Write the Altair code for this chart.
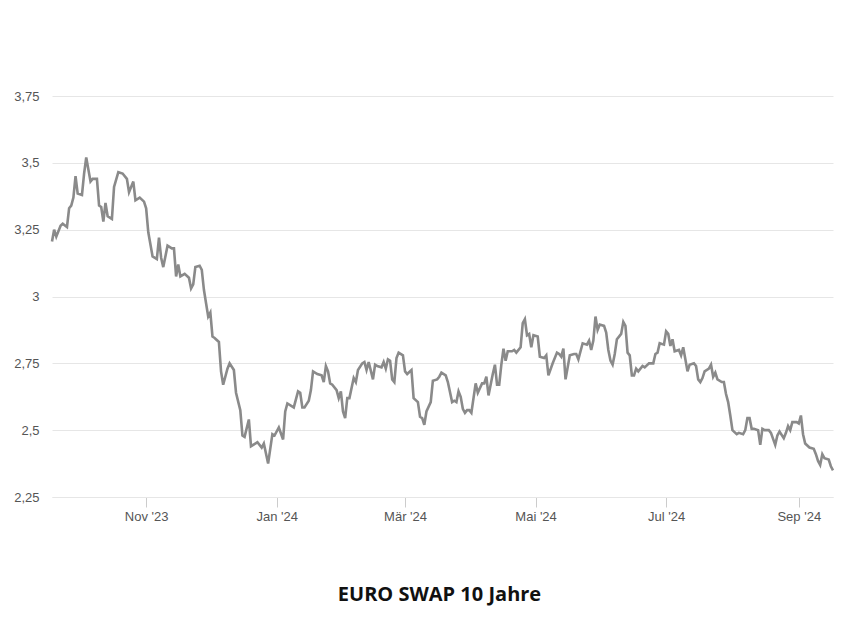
import altair as alt
import pandas as pd

start_date = "2023-09-18"

# day offsets from start_date (chunked by region)
days = (
    [0, 1, 2, 4, 5, 7, 8, 9, 10, 11, 12, 14, 15, 16, 18, 19, 21, 22, 23, 24, 25, 26, 28, 29,
     31, 33, 35, 36, 38, 39, 41, 43, 44, 45, 47, 49, 50, 51, 52, 54, 56, 57, 58, 59]
    + [60, 62, 64, 65, 66, 67, 69, 70, 71, 72, 73, 74, 75, 76, 78, 79, 80, 82, 83, 85,
       86, 88, 89, 90, 92, 93, 95, 96, 98, 99, 101, 103, 104, 106, 108, 109, 110, 112, 113, 115, 116]
    + [117, 118, 120, 121, 122, 124, 126, 127, 128, 129, 130, 131, 133, 134, 135, 136, 137, 138, 139, 141,
       142, 143, 145, 146, 147, 148, 150, 151, 152, 154, 155, 156, 157, 158, 159, 160, 161, 162, 164, 165,
       166, 168, 169, 171, 172]
    + [173, 174, 175, 177, 178, 180, 181, 182, 184, 185, 187, 188, 189, 190, 191, 192, 193, 194, 195, 196,
       198, 199, 201, 202, 203, 204, 206, 207, 208, 209, 210, 211, 212, 213, 215, 216, 217, 219, 220, 221,
       222, 223]
    + [224, 225, 227, 228, 230, 231, 232, 234, 236, 237, 238, 239, 240, 242, 244, 245, 246, 248, 250, 251,
       252, 253, 254, 255, 256, 258, 259, 260, 261, 262, 263, 264, 265, 266, 267, 268, 269, 270, 271, 272,
       273, 274, 276, 277, 279]
    + [280, 281, 282, 283, 284, 286, 287, 288, 289, 290, 291, 293, 294, 295, 296, 297, 298, 300, 301, 302,
       303, 304, 305, 307, 308, 309, 310, 311, 313, 314, 315, 316, 317, 318, 320, 321, 323, 324, 325, 326,
       327, 328, 330, 331, 332, 333, 335, 336, 338, 339, 340]
    + [342, 343, 344, 345, 346, 348, 349, 350, 351, 352, 354, 356, 357, 358, 359, 360, 361, 363, 364, 365]
)

rates = (
    [3.206, 3.25, 3.224, 3.265, 3.272, 3.26, 3.33, 3.34, 3.37, 3.45, 3.385, 3.38, 3.46, 3.52, 3.43, 3.44,
     3.44, 3.34, 3.335, 3.28, 3.35, 3.30, 3.29, 3.41, 3.465, 3.46, 3.44, 3.39, 3.43, 3.36, 3.37, 3.355,
     3.33, 3.24, 3.15, 3.14, 3.22, 3.145, 3.11, 3.19, 3.18, 3.18, 3.075, 3.12]
    + [3.075, 3.085, 3.07, 3.03, 3.045, 3.11, 3.115, 3.10, 3.025, 2.975, 2.925, 2.94, 2.85, 2.845, 2.83,
       2.72, 2.67, 2.73, 2.75, 2.725, 2.64, 2.575, 2.48, 2.475, 2.54, 2.44, 2.45, 2.455, 2.435, 2.45,
       2.375, 2.485, 2.48, 2.51, 2.465, 2.57, 2.60, 2.59, 2.585, 2.645, 2.64]
    + [2.585, 2.585, 2.61, 2.65, 2.72, 2.71, 2.705, 2.68, 2.74, 2.72, 2.675, 2.67, 2.65, 2.62, 2.645,
       2.57, 2.545, 2.62, 2.62, 2.695, 2.68, 2.725, 2.75, 2.755, 2.725, 2.755, 2.69, 2.745, 2.74, 2.735,
       2.755, 2.73, 2.765, 2.76, 2.69, 2.68, 2.77, 2.79, 2.78, 2.72, 2.71, 2.725, 2.62, 2.605, 2.55]
    + [2.545, 2.52, 2.57, 2.605, 2.685, 2.69, 2.70, 2.715, 2.705, 2.68, 2.605, 2.61, 2.605, 2.645, 2.625,
       2.58, 2.565, 2.575, 2.575, 2.565, 2.675, 2.64, 2.675, 2.675, 2.70, 2.63, 2.71, 2.745, 2.67, 2.67,
       2.745, 2.805, 2.76, 2.795, 2.795, 2.80, 2.79, 2.81, 2.90, 2.915, 2.855, 2.86]
    + [2.81, 2.855, 2.85, 2.775, 2.77, 2.78, 2.705, 2.75, 2.79, 2.785, 2.775, 2.805, 2.69, 2.78, 2.785,
       2.785, 2.765, 2.825, 2.82, 2.835, 2.80, 2.835, 2.925, 2.875, 2.895, 2.89, 2.865, 2.80, 2.76, 2.745,
       2.785, 2.84, 2.85, 2.86, 2.905, 2.89, 2.79, 2.78, 2.705, 2.705, 2.73, 2.72, 2.74, 2.735, 2.75]
    + [2.75, 2.75, 2.785, 2.79, 2.825, 2.82, 2.87, 2.86, 2.815, 2.84, 2.795, 2.80, 2.78, 2.81, 2.765,
       2.72, 2.745, 2.75, 2.74, 2.69, 2.68, 2.695, 2.72, 2.73, 2.745, 2.70, 2.715, 2.69, 2.68, 2.68,
       2.635, 2.605, 2.555, 2.50, 2.485, 2.49, 2.485, 2.50, 2.545, 2.545, 2.505, 2.505, 2.50, 2.445, 2.505,
       2.50, 2.50, 2.49, 2.445, 2.48, 2.495]
    + [2.47, 2.49, 2.515, 2.50, 2.53, 2.53, 2.525, 2.555, 2.485, 2.45, 2.435, 2.43, 2.41, 2.385, 2.37,
       2.41, 2.395, 2.39, 2.365, 2.35]
)

y_ticks = [2.25, 2.5, 2.75, 3, 3.25, 3.5, 3.75]
x_tick_months = [(2023, 11), (2024, 1), (2024, 3), (2024, 5), (2024, 7), (2024, 9)]
month_names = ["Jan", "Feb", "Mär", "Apr", "Mai", "Jun", "Jul", "Aug", "Sep", "Okt", "Nov", "Dez"]
title_text = "EURO SWAP 10 Jahre"

n = min(len(days), len(rates))
df = pd.DataFrame({
    "date": pd.to_datetime(start_date) + pd.to_timedelta(days[:n], unit="D"),
    "value": rates[:n],
})

month_arr = "[" + ",".join("'" + m + "'" for m in month_names) + "]"
x_label_expr = month_arr + "[month(datum.value)] + \" '\" + timeFormat(datum.value, '%y')"
y_label_expr = "replace(toString(datum.value), '.', ',')"

x_axis = alt.Axis(
    values=[alt.DateTime(year=y, month=m, date=1) for y, m in x_tick_months],
    labelExpr=x_label_expr,
    grid=False,
    domain=True,
    domainColor="#e6e6e6",
    domainWidth=1,
    ticks=True,
    tickColor="#cccccc",
    tickSize=10,
    labelPadding=3,
    labelFont="Liberation Sans",
    labelFontSize=13,
    labelColor="#555555",
    title=title_text,
    titleFont="Open Sans",
    titleFontSize=20,
    titleFontWeight="bold",
    titleColor="#111111",
    titleX=387,
    titleY=103,
    titleAlign="center",
    titleBaseline="alphabetic",
)

y_axis = alt.Axis(
    values=y_ticks,
    labelExpr=y_label_expr,
    grid=True,
    gridColor="#e6e6e6",
    gridWidth=1,
    domain=False,
    ticks=False,
    labelPadding=13,
    labelFont="Liberation Sans",
    labelFontSize=13,
    labelColor="#555555",
    title=None,
)

chart = (
    alt.Chart(df)
    .mark_line(color="#8a8a8a", strokeWidth=2.6)
    .encode(
        x=alt.X(
            "date:T",
            scale=alt.Scale(
                domain=[alt.DateTime(year=2023, month=9, date=18), alt.DateTime(year=2024, month=9, date=17)],
                nice=False,
            ),
            axis=x_axis,
        ),
        y=alt.Y(
            "value:Q",
            scale=alt.Scale(domain=[2.25, 3.75], nice=False, zero=False),
            axis=y_axis,
        ),
    )
    .properties(
        width=781,
        height=401,
        autosize=alt.AutoSizeParams(type="none"),
        padding={"left": 52, "top": 96, "right": 17, "bottom": 140},
        background="white",
    )
    .configure_view(stroke=None)
)

chart.save("out.html", embed_options={"renderer": "svg", "actions": False})
